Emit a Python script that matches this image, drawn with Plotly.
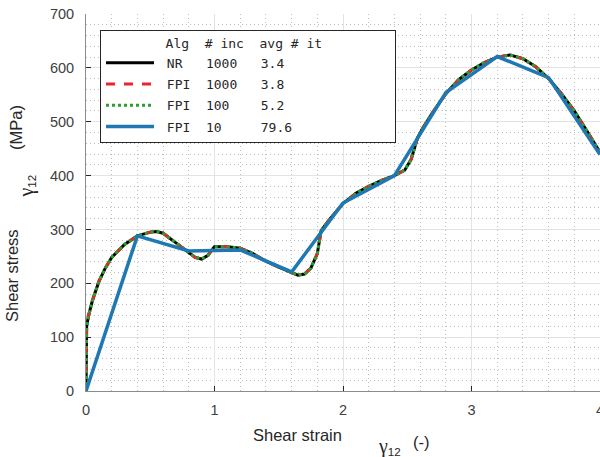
import plotly.graph_objects as go

# strain values (-) and stress values (MPa)
strain_fine = [0, 0.005, 0.02, 0.05, 0.1, 0.15, 0.2, 0.3, 0.4, 0.5, 0.55, 0.6, 0.7,
               0.8, 0.85, 0.9, 0.95, 0.98, 1.0, 1.1, 1.2, 1.3, 1.4, 1.5, 1.6, 1.65,
               1.7, 1.75, 1.8, 1.83, 1.9, 2.0, 2.1, 2.2, 2.3, 2.4, 2.48, 2.53, 2.58,
               2.62, 2.7, 2.8, 2.9, 3.0, 3.1, 3.2, 3.3, 3.4, 3.5, 3.6, 3.7, 3.8, 3.9, 4.0]
stress_fine = [0, 120, 140, 168, 203, 228, 248, 272, 288, 295, 296, 293, 275,
               256, 248, 245, 252, 262, 268, 268, 265, 255, 241, 230, 219, 215,
               217, 228, 255, 298, 320, 348, 367, 380, 391, 400, 410, 430, 470,
               488, 518, 552, 578, 596, 610, 620, 624, 617, 602, 580, 552, 520, 482, 443]

strain_coarse = [0, 0.4, 0.8, 1.2, 1.6, 2.0, 2.4, 2.8, 3.2, 3.6, 4.0]
stress_coarse = [0, 288, 260, 262, 221, 349, 400, 554, 621, 582, 439]

legend_header = "Alg  # inc  avg # it"
legend_names = ["NR   1000   3.4", "FPI  1000   3.8", "FPI  100    5.2", "FPI  10     79.6"]

# plot area in page pixels (600 x 457 page, body margin removed below)
PLOT_L, PLOT_R, PLOT_T, PLOT_B = 86, 600, 14, 391
FIG_W, FIG_H = 600, 457


def nbsp(text):
    ''' keep the spaces of the monospace legend columns '''
    return text.replace(" ", "\u00a0")


def paper(px, py):
    ''' page pixel position -> paper coordinates '''
    return (px - PLOT_L) / (PLOT_R - PLOT_L), (PLOT_B - py) / (PLOT_B - PLOT_T)


fig = go.Figure()

# the three fine runs overlap, blue coarse run on top
styles = [dict(color="black", width=3),
          dict(color="#e8262b", width=3, dash="dash"),
          dict(color="#2ca02c", width=3, dash="dot")]
for i, style in enumerate(styles):
    fig.add_trace(go.Scatter(x=strain_fine, y=stress_fine, mode="lines",
                             name=nbsp(" " + legend_names[i]), legendgroup=str(i), line=style))
fig.add_trace(go.Scatter(x=strain_coarse, y=stress_coarse, mode="lines",
                         name=nbsp(" " + legend_names[3]), legendgroup="3",
                         line=dict(color="#1f77b4", width=3.5)))

gamma = ('<span style="font-family:Liberation Serif;font-size:20px">γ</span>'
         '<sub>12</sub>')

axis_style = dict(
    showline=True, linecolor="#8c8c8c", linewidth=1, mirror=False, automargin=False,
    ticks="inside", ticklen=5, tickcolor="#262626", ticklabeloverflow="allow",
    tickfont=dict(family="Liberation Sans", size=14.5, color="#404040"),
    showgrid=True, gridcolor="#e3e3e3", gridwidth=1, zeroline=False,
)
minor_grid = dict(showgrid=True, gridcolor="#bdbdbd", griddash="1px,3px")

# axis labels as annotations: text, page x, page y, angle, xanchor, yanchor
label_font = dict(family="Liberation Sans", size=16.5, color="#262626")
labels = [
    ("Shear strain", 297, 435, 0, "center", "middle"),
    (gamma, 376, 446, 0, "left", "middle"),
    ("(-)", 411, 442, 0, "left", "middle"),
    ("Shear stress", 12, 276, -90, "center", "middle"),
    (gamma, 26, 200, -90, "center", "bottom"),
    ("(MPa)", 16, 128, -90, "center", "middle"),
]
annotations = []
for text, px, py, angle, xanchor, yanchor in labels:
    xp, yp = paper(px, py)
    annotations.append(dict(text=text, x=xp, y=yp, xref="paper", yref="paper",
                            xanchor=xanchor, yanchor=yanchor, textangle=angle,
                            showarrow=False, font=label_font))

fig.update_layout(
    width=FIG_W, height=FIG_H,
    margin=dict(l=PLOT_L, r=FIG_W - PLOT_R, t=PLOT_T, b=FIG_H - PLOT_B),
    plot_bgcolor="white", paper_bgcolor="white",
    font=label_font,
    xaxis=dict(range=[0, 4], dtick=1, ticklabelstandoff=6,
               minor=dict(dtick=0.2, **minor_grid), **axis_style),
    yaxis=dict(range=[0, 700], dtick=100, ticklabelstandoff=8,
               minor=dict(dtick=20, **minor_grid), **axis_style),
    annotations=annotations,
    legend=dict(
        x=paper(100, 30)[0], y=paper(100, 30)[1], xanchor="left", yanchor="top",
        bgcolor="white", bordercolor="#262626", borderwidth=1,
        font=dict(family="DejaVu Sans Mono", size=13, color="#262626"),
        title=dict(text=nbsp(" " * 8 + legend_header + " " * 9),
                   font=dict(family="DejaVu Sans Mono", size=13, color="#262626")),
        itemwidth=48, tracegroupgap=1.3,
    ),
)

# the page body has a default 8 px margin; drop it so the figure fills the window
fig.write_html("out.html", config={"displayModeBar": False},
               post_script="document.body.style.margin = '0px';")
